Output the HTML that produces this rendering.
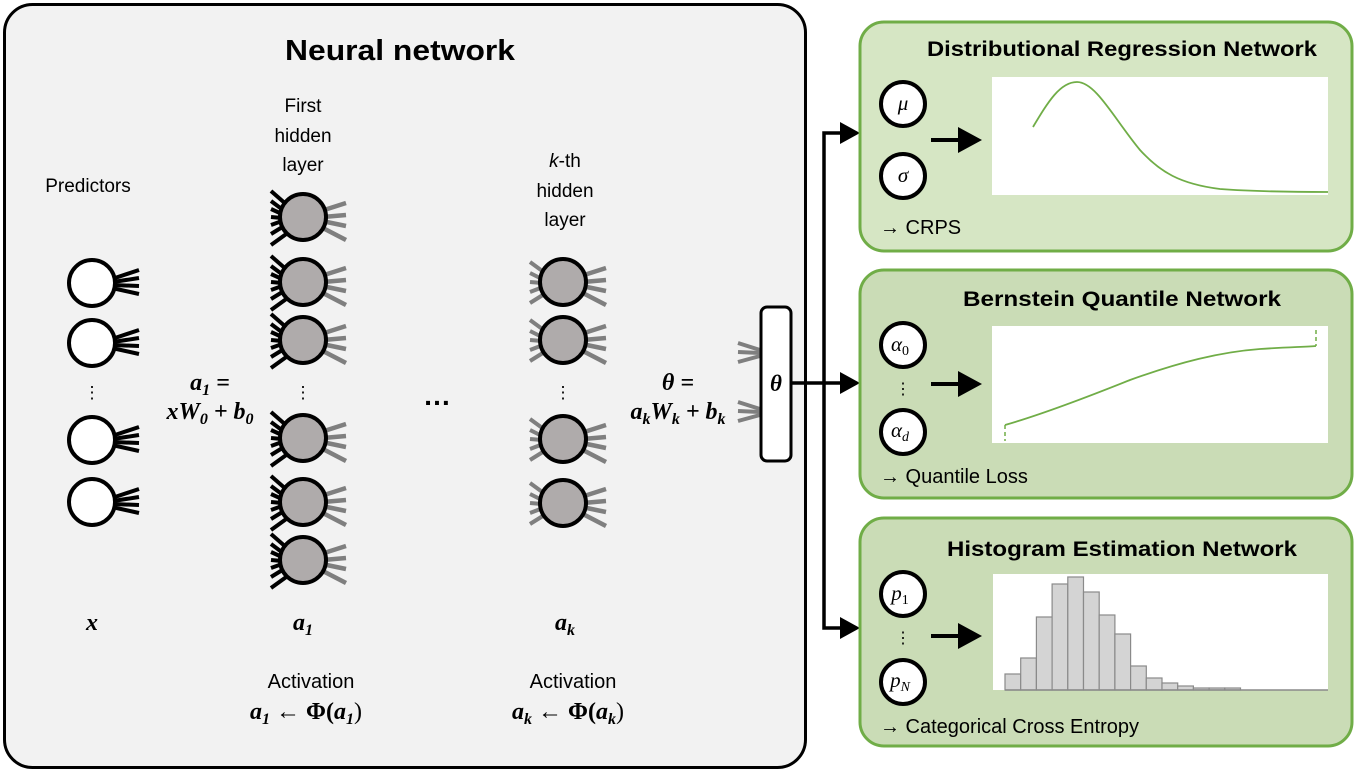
<!DOCTYPE html>
<html><head><meta charset="utf-8"><style>
html,body{margin:0;padding:0;background:#fff;}
svg{display:block;}
.s{font-family:"Liberation Sans",sans-serif;fill:#000;}
.m{font-family:"Liberation Serif",serif;font-weight:bold;font-style:italic;fill:#000;}
.mi{font-family:"Liberation Serif",serif;font-style:italic;fill:#000;}
</style></head><body>
<svg width="1362" height="773" viewBox="0 0 1362 773" xmlns="http://www.w3.org/2000/svg">
<defs>
<g id="pf" stroke="#000" stroke-width="4">
<line x1="20" y1="-4" x2="47" y2="-13"/><line x1="21" y1="-1" x2="47" y2="-5"/><line x1="21" y1="2" x2="47" y2="3"/><line x1="20" y1="5" x2="47" y2="11"/>
</g>
<g id="lb" stroke="#000" stroke-width="4">
<line x1="-32" y1="-26" x2="-16" y2="-12"/><line x1="-32" y1="-16" x2="-20" y2="-7"/><line x1="-32" y1="-8" x2="-21" y2="-3"/><line x1="-32" y1="0" x2="-21" y2="1"/><line x1="-32" y1="8" x2="-21" y2="4"/><line x1="-32" y1="17" x2="-19" y2="9"/><line x1="-32" y1="28" x2="-14" y2="15"/>
</g>
<g id="lg" stroke="#7f7f7f" stroke-width="4">
<line x1="-33" y1="-20" x2="-18" y2="-9"/><line x1="-33" y1="-9" x2="-21" y2="-3"/><line x1="-33" y1="0" x2="-21" y2="1"/><line x1="-33" y1="10" x2="-20" y2="5"/><line x1="-33" y1="21" x2="-17" y2="11"/>
</g>
<g id="rg" stroke="#7f7f7f" stroke-width="4.5">
<line x1="18" y1="-6" x2="43" y2="-14"/><line x1="20" y1="0" x2="43" y2="-2"/><line x1="19" y1="4" x2="43" y2="9"/><line x1="16" y1="9" x2="43" y2="23"/>
</g>
</defs>

<rect x="4.5" y="4.5" width="801" height="763" rx="28" fill="#f2f2f2" stroke="#000" stroke-width="3"/>
<text class="s" x="400" y="60" font-size="29" font-weight="bold" text-anchor="middle" textLength="230" lengthAdjust="spacingAndGlyphs">Neural network</text>

<text class="s" x="88" y="192" font-size="19" text-anchor="middle">Predictors</text>
<text class="s" x="303" y="112" font-size="19" text-anchor="middle">First</text>
<text class="s" x="303" y="142" font-size="19" text-anchor="middle">hidden</text>
<text class="s" x="303" y="171" font-size="19" text-anchor="middle">layer</text>
<text class="s" x="565" y="167" font-size="19" text-anchor="middle"><tspan font-style="italic">k</tspan>-th</text>
<text class="s" x="565" y="197" font-size="19" text-anchor="middle">hidden</text>
<text class="s" x="565" y="226" font-size="19" text-anchor="middle">layer</text>

<g>
<use href="#pf" x="92" y="283"/><use href="#pf" x="92" y="343"/><use href="#pf" x="92" y="440"/><use href="#pf" x="92" y="502"/>
<g fill="#fff" stroke="#000" stroke-width="4">
<circle cx="92" cy="283" r="23"/><circle cx="92" cy="343" r="23"/><circle cx="92" cy="440" r="23"/><circle cx="92" cy="502" r="23"/>
</g>
<text class="s" x="92" y="398" font-size="17" text-anchor="middle">⋮</text>
</g>

<g>
<use href="#lb" x="303" y="217"/><use href="#lb" x="303" y="282"/><use href="#lb" x="303" y="340"/><use href="#lb" x="303" y="438"/><use href="#lb" x="303" y="502"/><use href="#lb" x="303" y="560"/>
<use href="#rg" x="303" y="217"/><use href="#rg" x="303" y="282"/><use href="#rg" x="303" y="340"/><use href="#rg" x="303" y="438"/><use href="#rg" x="303" y="502"/><use href="#rg" x="303" y="560"/>
<g fill="#afabab" stroke="#000" stroke-width="4">
<circle cx="303" cy="217" r="23"/><circle cx="303" cy="282" r="23"/><circle cx="303" cy="340" r="23"/><circle cx="303" cy="438" r="23"/><circle cx="303" cy="502" r="23"/><circle cx="303" cy="560" r="23"/>
</g>
<text class="s" x="303" y="398" font-size="17" text-anchor="middle">⋮</text>
</g>

<g>
<use href="#lg" x="563" y="282"/><use href="#lg" x="563" y="340"/><use href="#lg" x="563" y="439"/><use href="#lg" x="563" y="503"/>
<use href="#rg" x="563" y="282"/><use href="#rg" x="563" y="340"/><use href="#rg" x="563" y="439"/><use href="#rg" x="563" y="503"/>
<g fill="#afabab" stroke="#000" stroke-width="4">
<circle cx="563" cy="282" r="23"/><circle cx="563" cy="340" r="23"/><circle cx="563" cy="439" r="23"/><circle cx="563" cy="503" r="23"/>
</g>
<text class="s" x="563" y="398" font-size="17" text-anchor="middle">⋮</text>
</g>

<text class="s" x="437" y="405" font-size="28" font-weight="bold" text-anchor="middle">…</text>

<text class="m" x="210" y="390" font-size="24" text-anchor="middle">a<tspan font-size="16" dy="5">1</tspan><tspan dy="-5"> =</tspan></text>
<text class="m" x="210" y="419" font-size="24" text-anchor="middle">xW<tspan font-size="16" dy="5">0</tspan><tspan dy="-5"> + b</tspan><tspan font-size="16" dy="5">0</tspan></text>
<text class="m" x="678" y="390" font-size="24" text-anchor="middle">θ =</text>
<text class="m" x="678" y="419" font-size="24" text-anchor="middle">a<tspan font-size="16" dy="5">k</tspan><tspan dy="-5">W</tspan><tspan font-size="16" dy="5">k</tspan><tspan dy="-5"> + b</tspan><tspan font-size="16" dy="5">k</tspan></text>

<g stroke="#7f7f7f" stroke-width="4">
<line x1="738" y1="343" x2="760" y2="350"/><line x1="738" y1="352" x2="760" y2="353"/><line x1="738" y1="362" x2="760" y2="356"/>
<line x1="738" y1="402" x2="760" y2="409"/><line x1="738" y1="411" x2="760" y2="412"/><line x1="738" y1="421" x2="760" y2="415"/>
</g>
<rect x="761" y="307" width="30" height="154" rx="6" fill="#fff" stroke="#000" stroke-width="3"/>
<text class="m" x="776" y="391" font-size="23" text-anchor="middle">θ</text>

<text class="m" x="92" y="630" font-size="24" text-anchor="middle">x</text>
<text class="m" x="303" y="630" font-size="24" text-anchor="middle">a<tspan font-size="16" dy="5">1</tspan></text>
<text class="m" x="565" y="630" font-size="24" text-anchor="middle">a<tspan font-size="16" dy="5">k</tspan></text>
<text class="s" x="311" y="688" font-size="20" text-anchor="middle">Activation</text>
<text class="m" x="306" y="719" font-size="24" text-anchor="middle">a<tspan font-size="16" dy="5">1</tspan><tspan dy="-5" font-style="normal" font-weight="normal"> ← </tspan><tspan font-style="normal">Φ(</tspan>a<tspan font-size="16" dy="5">1</tspan><tspan dy="-5" font-style="normal" font-weight="normal">)</tspan></text>
<text class="s" x="573" y="688" font-size="20" text-anchor="middle">Activation</text>
<text class="m" x="568" y="719" font-size="24" text-anchor="middle">a<tspan font-size="16" dy="5">k</tspan><tspan dy="-5" font-style="normal" font-weight="normal"> ← </tspan><tspan font-style="normal">Φ(</tspan>a<tspan font-size="16" dy="5">k</tspan><tspan dy="-5" font-style="normal" font-weight="normal">)</tspan></text>

<g stroke="#000" stroke-width="3.5" fill="none">
<line x1="791" y1="383" x2="842" y2="383"/>
<polyline points="842,133 824,133 824,628 842,628"/>
</g>
<g fill="#000">
<polygon points="840,122 860,133 840,144"/>
<polygon points="840,372 860,383 840,394"/>
<polygon points="840,617 860,628 840,639"/>
</g>

<rect x="860" y="22" width="492" height="229" rx="24" fill="#d6e6c4" stroke="#70ad47" stroke-width="3"/>
<rect x="860" y="270" width="492" height="228" rx="24" fill="#cadcb6" stroke="#70ad47" stroke-width="3"/>
<rect x="860" y="518" width="492" height="228" rx="24" fill="#cadcb6" stroke="#70ad47" stroke-width="3"/>

<text class="s" x="1122" y="56" font-size="21" font-weight="bold" text-anchor="middle" textLength="390" lengthAdjust="spacingAndGlyphs">Distributional Regression Network</text>
<text class="s" x="1122" y="306" font-size="21" font-weight="bold" text-anchor="middle" textLength="318" lengthAdjust="spacingAndGlyphs">Bernstein Quantile Network</text>
<text class="s" x="1122" y="556" font-size="21" font-weight="bold" text-anchor="middle" textLength="350" lengthAdjust="spacingAndGlyphs">Histogram Estimation Network</text>

<text class="s" x="880" y="234" font-size="20">→ CRPS</text>
<text class="s" x="880" y="483" font-size="20">→ Quantile Loss</text>
<text class="s" x="880" y="733" font-size="20">→ Categorical Cross Entropy</text>

<g fill="#fff" stroke="#000" stroke-width="4">
<circle cx="903" cy="104" r="22"/><circle cx="903" cy="176" r="22"/>
<circle cx="903" cy="345" r="22"/><circle cx="903" cy="432" r="22"/>
<circle cx="903" cy="594" r="22"/><circle cx="903" cy="682" r="22"/>
</g>
<text class="mi" x="903" y="110" font-size="21" text-anchor="middle">μ</text>
<text class="mi" x="903" y="182" font-size="21" text-anchor="middle">σ</text>
<text class="mi" x="900" y="351" font-size="21" text-anchor="middle">α<tspan font-size="14" dy="4" font-style="normal">0</tspan></text>
<text class="mi" x="900" y="437" font-size="21" text-anchor="middle">α<tspan font-size="14" dy="4">d</tspan></text>
<text class="mi" x="900" y="600" font-size="21" text-anchor="middle">p<tspan font-size="14" dy="4" font-style="normal">1</tspan></text>
<text class="mi" x="900" y="687" font-size="21" text-anchor="middle">p<tspan font-size="14" dy="4">N</tspan></text>
<text class="s" x="903" y="394" font-size="16" text-anchor="middle">⋮</text>
<text class="s" x="903" y="643" font-size="16" text-anchor="middle">⋮</text>

<g stroke="#000" stroke-width="4"><line x1="931" y1="140" x2="962" y2="140"/><line x1="931" y1="384" x2="962" y2="384"/><line x1="931" y1="636" x2="962" y2="636"/></g>
<g fill="#000"><polygon points="958,127 982,140 958,153"/><polygon points="958,371 982,384 958,397"/><polygon points="958,623 982,636 958,649"/></g>

<rect x="992" y="77" width="336" height="118" fill="#fff"/>
<path d="M1033,127 C1048,102 1060,82 1077,82 C1096,82 1115,120 1140,150 C1160,172 1180,184 1220,189 C1260,192 1300,192 1328,192" fill="none" stroke="#70ad47" stroke-width="1.8"/>

<rect x="992" y="326" width="336" height="117" fill="#fff"/>
<path d="M1005,425 C1040,415 1080,400 1130,380 C1180,362 1220,352 1260,349 C1290,347 1305,347 1316,346" fill="none" stroke="#70ad47" stroke-width="1.8"/>
<line x1="1005" y1="425" x2="1005" y2="441" stroke="#70ad47" stroke-width="1.5" stroke-dasharray="4,3"/>
<line x1="1316" y1="330" x2="1316" y2="346" stroke="#70ad47" stroke-width="1.5" stroke-dasharray="4,3"/>

<rect x="993" y="574" width="335" height="116" fill="#fff"/>
<g fill="#d4d4d4" stroke="#8a8a8a" stroke-width="1.2">
<rect x="1005" y="674" width="15.7" height="16"/>
<rect x="1020.7" y="658" width="15.7" height="32"/>
<rect x="1036.4" y="617" width="15.7" height="73"/>
<rect x="1052.1" y="584" width="15.7" height="106"/>
<rect x="1067.8" y="577" width="15.7" height="113"/>
<rect x="1083.5" y="592" width="15.7" height="98"/>
<rect x="1099.2" y="615" width="15.7" height="75"/>
<rect x="1114.9" y="634" width="15.7" height="56"/>
<rect x="1130.6" y="666" width="15.7" height="24"/>
<rect x="1146.3" y="678" width="15.7" height="12"/>
<rect x="1162" y="683" width="15.7" height="7"/>
<rect x="1177.7" y="686" width="15.7" height="4"/>
<rect x="1193.4" y="688" width="15.7" height="2"/>
<rect x="1209.1" y="688" width="15.7" height="2"/>
<rect x="1224.8" y="688" width="15.7" height="2"/>
</g>
<line x1="1005" y1="690" x2="1328" y2="690" stroke="#8a8a8a" stroke-width="1.5"/>
</svg>
</body></html>
